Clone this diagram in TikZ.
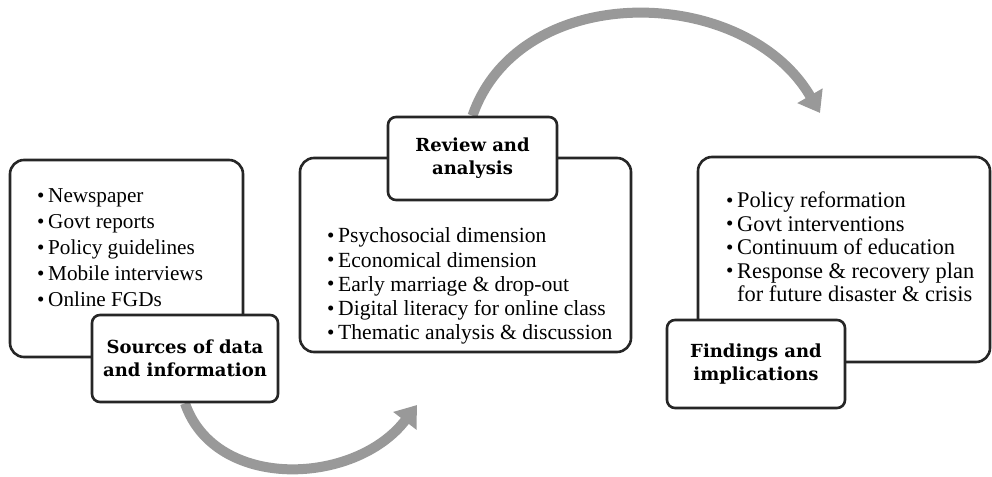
\documentclass[tikz,border=0pt]{standalone}
\usepackage{fontspec}
\setmainfont{Liberation Serif}
\newfontfamily\labelfont{DejaVu Serif}
\usetikzlibrary{arrows.meta,backgrounds}
\newcommand{\itm}{\makebox[10pt][l]{\hspace*{-1pt}\raisebox{0.5pt}{\fontsize{21}{21}\selectfont\textbullet}}}

\begin{document}
\begin{tikzpicture}[x=1pt,y=1pt,
    bigbox/.style={draw=black!85, line width=2.6pt, rounded corners=14pt,
        fill=white, inner sep=0pt},
    labelbox/.style={draw=black!85, line width=2.6pt, rounded corners=8pt,
        fill=white, inner sep=0pt, align=center,
        font=\labelfont\bfseries\fontsize{18}{23}\selectfont},
    listtext/.style={anchor=base west, inner sep=0pt},
    flow/.style={draw=black!40, line width=10pt,
        -{Triangle[length=20pt,width=28pt]}}]

    \useasboundingbox (0,0) rectangle (992,476);

    % the three boxes
    \node[bigbox,
        minimum width=233pt,
        minimum height=197pt] (sources) at (126.5,217.5) {};

    \node[bigbox,
        minimum width=331pt,
        minimum height=194pt] (review) at (465.5,221) {};

    \node[bigbox,
        minimum width=292pt,
        minimum height=205pt] (findings) at (844,216.5) {};

    % the lists
    \node[listtext,
        font=\fontsize{21.2}{26}\selectfont] (sourceslist) at (38,273)
        {\begin{tabular}[t]{@{}l@{}}
            \itm Newspaper\\
            \itm Govt reports\\
            \itm Policy guidelines\\
            \itm Mobile interviews\\
            \itm Online FGDs
        \end{tabular}};

    \node[listtext,
        font=\fontsize{21.6}{24.25}\selectfont] (reviewlist) at (328,233)
        {\begin{tabular}[t]{@{}l@{}}
            \itm Psychosocial dimension\\
            \itm Economical dimension\\
            \itm Early marriage \& drop-out\\
            \itm Digital literacy for online class\\
            \itm Thematic analysis \& discussion
        \end{tabular}};

    \node[listtext,
        font=\fontsize{22.4}{23.5}\selectfont] (findingslist) at (727,268)
        {\begin{tabular}[t]{@{}l@{}}
            \itm Policy reformation\\
            \itm Govt interventions\\
            \itm Continuum of education\\
            \itm Response \& recovery plan\\
            \hspace*{10pt}for future disaster \& crisis
        \end{tabular}};

    % the labels
    \node[labelbox,
        minimum width=186pt,
        minimum height=87pt] (sourceslabel) at (185,117.5)
        {Sources of data\\and information};

    \node[labelbox,
        minimum width=169pt,
        minimum height=83pt] (reviewlabel) at (472.5,317.5)
        {Review and\\analysis};

    \node[labelbox,
        minimum width=178pt,
        minimum height=88pt] (findingslabel) at (756,112)
        {Findings and\\implications};

    % the arrows
    \coordinate (tipone) at (417,71);
    \coordinate (tiptwo) at (820,363);
    \begin{scope}[on background layer]
        \draw[flow] (sourceslabel.south)
            .. controls (215,-15) and (355,-10) .. (tipone);
        \draw[flow] (reviewlabel.north)
            .. controls (520,497) and (745,492) .. (tiptwo);
    \end{scope}

\end{tikzpicture}
\end{document}
